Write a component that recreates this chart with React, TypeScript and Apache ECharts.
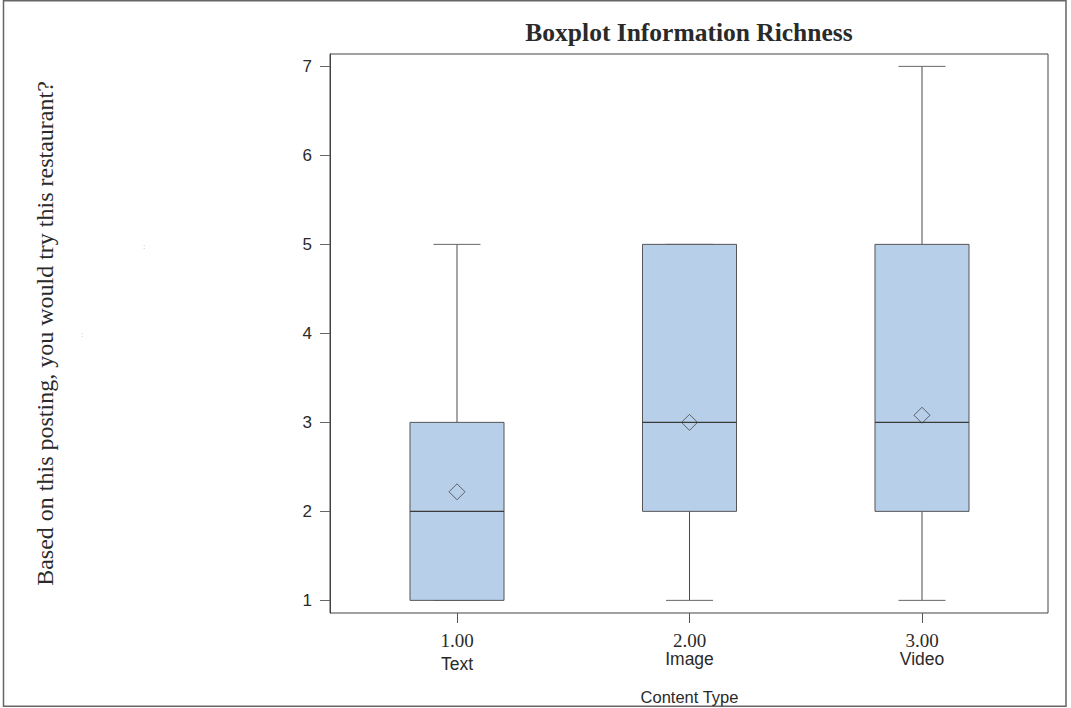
import React, { useEffect, useRef } from "react";
import * as echarts from "echarts";

const categories = ["1.00", "2.00", "3.00"];
const groupNames = ["Text", "Image", "Video"];
const minValues = [1, 1, 1];
const q1Values = [1, 2, 2];
const medianValues = [2, 3, 3];
const q3Values = [3, 5, 5];
const maxValues = [5, 5, 7];
const meanValues = [2.22, 3.0, 3.08];
const yTicks = [1, 2, 3, 4, 5, 6, 7];
const chartTitle = "Boxplot Information Richness";
const yAxisTitle = "Based on this posting, you would try this restaurant?";
const xAxisTitle = "Content Type";

const Y_MIN = 0.858;
const Y_MAX = 7.139;

const SERIF = "'Liberation Serif', 'Times New Roman', serif";
const SANS = "'Liberation Sans', Arial, sans-serif";

export default function App() {
  const ref = useRef<HTMLDivElement>(null);

  useEffect(() => {
    if (!ref.current) return;
    const chart = echarts.init(ref.current, undefined, { renderer: "svg" });

    const boxData = categories.map((_, i) => [
      i,
      minValues[i],
      q1Values[i],
      medianValues[i],
      q3Values[i],
      maxValues[i],
    ]);
    const meanData = categories.map((_, i) => [i, meanValues[i]]);

    const option: any = {
      animation: false,
      backgroundColor: "#ffffff",
      title: {
        text: chartTitle,
        left: 689,
        top: 19,
        padding: 0,
        textAlign: "center",
        textStyle: {
          fontFamily: SERIF,
          fontWeight: "bold",
          fontSize: 25.5,
          color: "#2a2a2a",
        },
      },
      grid: [
        {
          left: 330,
          top: 54,
          width: 718,
          height: 559,
          show: true,
          borderColor: "#444",
          borderWidth: 1,
          backgroundColor: "transparent",
          containLabel: false,
          outerBoundsMode: "none",
        },
        {
          left: 340.75,
          top: 54,
          width: 697.5,
          height: 559,
          containLabel: false,
          outerBoundsMode: "none",
        },
      ],
      xAxis: [
        {
          gridIndex: 0,
          type: "value",
          show: false,
          min: 0,
          max: 1,
        },
        {
          gridIndex: 1,
          type: "category",
          data: categories,
          axisLine: { show: false },
          axisTick: {
            show: true,
            alignWithLabel: true,
            length: 10,
            lineStyle: { color: "#555", width: 1 },
          },
          axisLabel: {
            margin: 18,
            interval: 0,
            formatter: (value: string, index: number) =>
              index === 0
                ? `{a|${value}}\n{c|${groupNames[index]}}`
                : `{a|${value}}\n{b|${groupNames[index]}}`,
            rich: {
              a: {
                fontFamily: SERIF,
                fontSize: 19,
                lineHeight: 19,
                color: "#2a2a2a",
              },
              b: {
                fontFamily: SANS,
                fontSize: 17.5,
                lineHeight: 18,
                color: "#2a2a2a",
              },
              c: {
                fontFamily: SANS,
                fontSize: 17.5,
                lineHeight: 28,
                color: "#2a2a2a",
              },
            },
          },
          name: xAxisTitle,
          nameLocation: "middle",
          nameGap: 75,
          nameTextStyle: {
            fontFamily: SANS,
            fontSize: 16.5,
            color: "#2a2a2a",
          },
        },
      ],
      yAxis: [
        {
          gridIndex: 0,
          type: "value",
          min: Y_MIN,
          max: Y_MAX,
          splitLine: { show: false },
          axisLine: { show: true, lineStyle: { color: "#444", width: 1 } },
          axisTick: {
            show: true,
            length: 10,
            customValues: yTicks,
            lineStyle: { color: "#666", width: 1 },
          },
          axisLabel: {
            customValues: yTicks,
            margin: 18,
            fontFamily: SANS,
            fontSize: 17,
            color: "#2a2a2a",
          },
          name: yAxisTitle,
          nameLocation: "middle",
          nameGap: 273,
          nameRotate: 90,
          nameTextStyle: {
            fontFamily: SERIF,
            fontSize: 24,
            color: "#2a2a2a",
          },
        },
        {
          gridIndex: 1,
          type: "value",
          min: Y_MIN,
          max: Y_MAX,
          show: false,
          splitLine: { show: false },
        },
      ],
      series: [
        {
          type: "custom",
          xAxisIndex: 1,
          yAxisIndex: 1,
          data: boxData,
          encode: { x: 0, y: [1, 2, 3, 4, 5] },
          clip: false,
          z: 2,
          renderItem: (params: any, api: any) => {
            const i = api.value(0);
            const pMin = api.coord([i, api.value(1)]);
            const pQ1 = api.coord([i, api.value(2)]);
            const pMed = api.coord([i, api.value(3)]);
            const pQ3 = api.coord([i, api.value(4)]);
            const pMax = api.coord([i, api.value(5)]);
            const band = api.size([1, 0])[0];
            const half = band * 0.2022;
            const capHalf = half / 2;
            const cx = pMed[0];
            const ls = { stroke: "#4a4a4a", lineWidth: 1 };
            return {
              type: "group",
              children: [
                { type: "line", shape: { x1: cx, y1: pQ3[1], x2: cx, y2: pMax[1] }, style: ls },
                { type: "line", shape: { x1: cx, y1: pMin[1], x2: cx, y2: pQ1[1] }, style: ls },
                { type: "line", shape: { x1: cx - capHalf, y1: pMax[1], x2: cx + capHalf, y2: pMax[1] }, style: { stroke: "#666", lineWidth: 1 } },
                { type: "line", shape: { x1: cx - capHalf, y1: pMin[1], x2: cx + capHalf, y2: pMin[1] }, style: { stroke: "#666", lineWidth: 1 } },
                {
                  type: "rect",
                  shape: { x: cx - half, y: pQ3[1], width: 2 * half, height: pQ1[1] - pQ3[1] },
                  style: { fill: "#b8cfe9", stroke: "#555", lineWidth: 1 },
                },
                { type: "line", shape: { x1: cx - half, y1: pMed[1], x2: cx + half, y2: pMed[1] }, style: { stroke: "#3a3a3a", lineWidth: 1.2 } },
              ],
            };
          },
        },
        {
          type: "scatter",
          xAxisIndex: 1,
          yAxisIndex: 1,
          data: meanData,
          symbol: "diamond",
          symbolSize: [16, 16],
          z: 3,
          itemStyle: {
            color: "rgba(0,0,0,0)",
            borderColor: "#444",
            borderWidth: 1,
          },
        },
      ],
      graphic: [
        {
          type: "rect",
          silent: true,
          shape: { x: 3.5, y: 0.75, width: 1062.5, height: 705.5 },
          style: { fill: "none", stroke: "#666", lineWidth: 1.5 },
        },
        {
          type: "text",
          silent: true,
          x: 144,
          y: 246,
          style: { text: ":", fontSize: 8, fill: "#aaa", align: "center", verticalAlign: "middle", fontFamily: SANS },
        },
        {
          type: "text",
          silent: true,
          x: 82,
          y: 334,
          style: { text: ":", fontSize: 8, fill: "#bbb", align: "center", verticalAlign: "middle", fontFamily: SANS },
        },
      ],
    };

    chart.setOption(option);
    return () => {
      chart.dispose();
    };
  }, []);

  return (
    <div
      ref={ref}
      style={{ position: "absolute", left: 0, top: 0, width: 1071, height: 708 }}
    />
  );
}
